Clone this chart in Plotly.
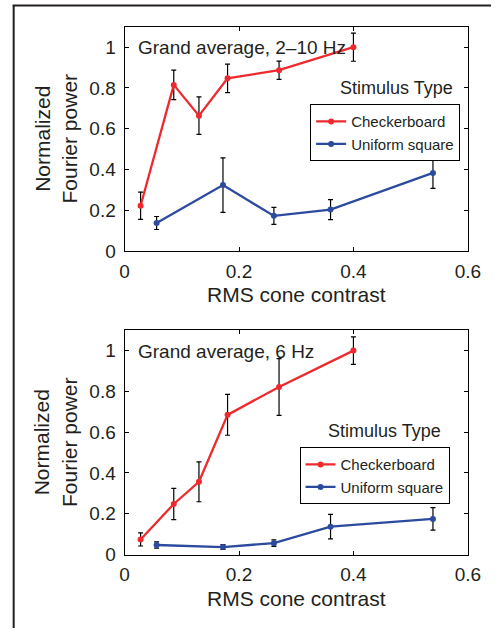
import plotly.graph_objects as go

W, H = 504, 639

# ---- data ----
x_check = [0.028, 0.086, 0.130, 0.180, 0.270, 0.400]
x_unif = [0.056, 0.172, 0.261, 0.360, 0.539]

# Panel A: grand average 2-10 Hz
a_check = [0.222, 0.815, 0.664, 0.847, 0.887, 1.000]
a_check_err = [0.067, 0.072, 0.092, 0.070, 0.045, 0.069]
a_unif = [0.137, 0.323, 0.172, 0.203, 0.383]
a_unif_err = [0.032, 0.134, 0.042, 0.049, 0.076]

# Panel B: grand average 6 Hz
b_check = [0.074, 0.248, 0.357, 0.685, 0.822, 1.000]
b_check_err = [0.032, 0.077, 0.098, 0.100, 0.139, 0.067]
b_unif = [0.047, 0.037, 0.056, 0.137, 0.175]
b_unif_err = [0.015, 0.012, 0.016, 0.060, 0.055]

titles = ["Grand average, 2\u201310 Hz", "Grand average, 6 Hz"]
series_names = ["Checkerboard", "Uniform square"]
legend_title = "Stimulus Type"
x_title = "RMS cone contrast"
y_title = "Normalized<br>Fourier power"

RED = "#ee2a2e"
BLUE = "#2c4a9e"
INK = "#231f20"
FONT = "Liberation Sans, Arial, Helvetica, sans-serif"


def px_x(p):
    return p / W


def px_y(p):
    return 1 - p / H


fig = go.Figure()

panels = [
    (a_check, a_check_err, a_unif, a_unif_err, "x", "y", "legend"),
    (b_check, b_check_err, b_unif, b_unif_err, "x2", "y2", "legend2"),
]
for ck, cke, un, une, xa, ya, lg in panels:
    fig.add_trace(go.Scatter(
        x=x_check, y=ck, mode="lines+markers", name=series_names[0],
        line=dict(color=RED, width=2.3), marker=dict(color=RED, size=6),
        error_y=dict(type="data", array=cke, color="black", thickness=1.2, width=2.5),
        xaxis=xa, yaxis=ya, legend=lg))
    fig.add_trace(go.Scatter(
        x=x_unif, y=un, mode="lines+markers", name=series_names[1],
        line=dict(color=BLUE, width=2.3), marker=dict(color=BLUE, size=6),
        error_y=dict(type="data", array=une, color="black", thickness=1.2, width=2.5),
        xaxis=xa, yaxis=ya, legend=lg))

xdom = [px_x(124), px_x(480)]
ydomA = [px_y(255.3), px_y(27.3)]
ydomB = [px_y(564.3), px_y(336)]

axis_common = dict(
    showline=True, linecolor="black", linewidth=1, mirror="ticks",
    ticks="inside", ticklen=4, tickwidth=1, tickcolor="black",
    showgrid=False, zeroline=False,
    tickfont=dict(family=FONT, size=19, color=INK),
)

legend_common = dict(
    xanchor="right", yanchor="top",
    bordercolor="black", borderwidth=1, bgcolor="white",
    font=dict(family=FONT, size=15, color=INK),
    itemwidth=30, tracegroupgap=0,
)

fig.update_layout(
    width=W, height=H, margin=dict(l=0, r=0, t=0, b=0),
    paper_bgcolor="white", plot_bgcolor="white",
    font=dict(family=FONT, color=INK),
    xaxis=dict(domain=xdom, range=[0, 0.6], dtick=0.2, anchor="y",
               ticklabelstandoff=3, **axis_common),
    yaxis=dict(domain=ydomA, range=[0, 1.1], tickvals=[0, 0.2, 0.4, 0.6, 0.8, 1],
               anchor="x", ticklabelstandoff=4, **axis_common),
    xaxis2=dict(domain=xdom, range=[0, 0.6], dtick=0.2, anchor="y2",
                ticklabelstandoff=3, **axis_common),
    yaxis2=dict(domain=ydomB, range=[0, 1.1], tickvals=[0, 0.2, 0.4, 0.6, 0.8, 1],
                anchor="x2", ticklabelstandoff=4, **axis_common),
    legend=dict(x=px_x(472), y=px_y(106), **legend_common),
    legend2=dict(x=px_x(461), y=px_y(455), **legend_common),
    showlegend=True,
)

annots = [
    dict(text=titles[0], x=px_x(136), y=px_y(48.3), xanchor="left", yanchor="middle", size=19),
    dict(text=titles[1], x=px_x(136), y=px_y(357.7), xanchor="left", yanchor="middle", size=19),
    dict(text=legend_title, x=px_x(405.5), y=px_y(90), xanchor="center", yanchor="middle", size=18),
    dict(text=legend_title, x=px_x(394), y=px_y(439), xanchor="center", yanchor="middle", size=18),
    dict(text=x_title, x=px_x(302), y=px_y(300), xanchor="center", yanchor="middle", size=21),
    dict(text=x_title, x=px_x(302), y=px_y(608.7), xanchor="center", yanchor="middle", size=21),
]
for a in annots:
    fig.add_annotation(text=a["text"], x=a["x"], y=a["y"], xref="paper", yref="paper",
                       xanchor=a["xanchor"], yanchor=a["yanchor"], showarrow=False,
                       font=dict(family=FONT, size=a["size"], color=INK))

for cy in [(27.3 + 255.3) / 2, (336 + 564.3) / 2]:
    fig.add_annotation(text=y_title, x=px_x(52.5), y=px_y(cy), xref="paper", yref="paper",
                       xanchor="center", yanchor="middle", textangle=-90, showarrow=False,
                       font=dict(family=FONT, size=21, color=INK))

# outer frame (top and left edges)
fig.add_shape(type="line", xref="paper", yref="paper", x0=px_x(8), x1=1, y0=px_y(5.5), y1=px_y(5.5),
              line=dict(color=INK, width=2))
fig.add_shape(type="line", xref="paper", yref="paper", x0=px_x(9), x1=px_x(9), y0=0, y1=px_y(5),
              line=dict(color=INK, width=2))

fig.write_html("out.html")
